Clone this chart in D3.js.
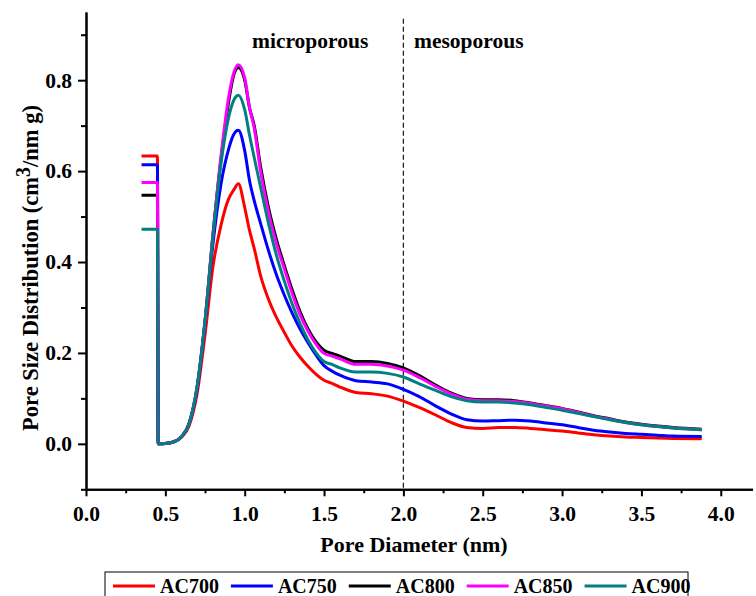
<!DOCTYPE html>
<html>
<head>
<meta charset="utf-8">
<script src="https://cdn.jsdelivr.net/npm/d3@7"></script>
<style>
  body { margin: 0; background: #fff; }
  text { font-family: "Liberation Serif", "Times New Roman", serif; font-weight: bold; }
</style>
</head>
<body>
<div id="chart"></div>
<script>
// pore diameter grid (nm)
var diameter = [0.35, 0.45, 0.455, 0.5, 0.55, 0.6, 0.65, 0.7, 0.75, 0.8, 0.85, 0.9, 0.93, 0.96,
  1.0, 1.03, 1.06, 1.1, 1.15, 1.2, 1.25, 1.3, 1.35, 1.4, 1.45, 1.5, 1.55, 1.6, 1.7, 1.8, 1.9,
  2.0, 2.1, 2.2, 2.3, 2.4, 2.5, 2.6, 2.7, 2.8, 2.9, 3.0, 3.1, 3.2, 3.3, 3.4, 3.5, 3.6, 3.7, 3.88];

// pore size distribution (cm3/nm g) per sample
var ac700 = [0.633, 0.633, 0, 0.001, 0.004, 0.014, 0.04, 0.11, 0.24, 0.39, 0.48, 0.54, 0.558, 0.572,
  0.52, 0.47, 0.43, 0.37, 0.318, 0.278, 0.245, 0.214, 0.19, 0.17, 0.153, 0.14, 0.133, 0.125, 0.113, 0.11, 0.105,
  0.094, 0.08, 0.064, 0.047, 0.036, 0.034, 0.036, 0.036, 0.034, 0.031, 0.028, 0.024, 0.02, 0.017, 0.015, 0.014, 0.013, 0.012, 0.011];
var ac750 = [0.614, 0.614, 0, 0.001, 0.004, 0.015, 0.045, 0.12, 0.265, 0.44, 0.57, 0.65, 0.68, 0.69,
  0.645, 0.58, 0.535, 0.485, 0.425, 0.372, 0.327, 0.287, 0.252, 0.222, 0.195, 0.172, 0.16, 0.151, 0.139, 0.136, 0.132,
  0.12, 0.104, 0.084, 0.066, 0.053, 0.05, 0.051, 0.052, 0.05, 0.046, 0.042, 0.036, 0.03, 0.026, 0.023, 0.021, 0.019, 0.017, 0.016];
var ac800 = [0.547, 0.547, 0, 0.001, 0.004, 0.015, 0.045, 0.125, 0.27, 0.46, 0.625, 0.755, 0.81, 0.828,
  0.80, 0.74, 0.70, 0.61, 0.52, 0.45, 0.392, 0.338, 0.29, 0.252, 0.224, 0.206, 0.199, 0.193, 0.181, 0.181, 0.177,
  0.167, 0.15, 0.13, 0.112, 0.1, 0.097, 0.097, 0.095, 0.09, 0.084, 0.078, 0.07, 0.062, 0.055, 0.048, 0.043, 0.039, 0.036, 0.032];
var ac850 = [0.575, 0.575, 0, 0.001, 0.004, 0.015, 0.045, 0.125, 0.27, 0.46, 0.63, 0.765, 0.815, 0.834,
  0.805, 0.74, 0.695, 0.60, 0.51, 0.44, 0.385, 0.33, 0.283, 0.247, 0.219, 0.199, 0.193, 0.187, 0.175, 0.175, 0.171,
  0.162, 0.146, 0.127, 0.11, 0.098, 0.095, 0.095, 0.093, 0.089, 0.083, 0.077, 0.069, 0.061, 0.054, 0.047, 0.042, 0.038, 0.035, 0.031];
var ac900 = [0.472, 0.472, 0, 0.001, 0.004, 0.015, 0.045, 0.125, 0.27, 0.455, 0.615, 0.72, 0.755, 0.767,
  0.735, 0.68, 0.63, 0.565, 0.485, 0.415, 0.358, 0.307, 0.264, 0.228, 0.2, 0.181, 0.175, 0.167, 0.158, 0.158, 0.155,
  0.147, 0.132, 0.118, 0.104, 0.095, 0.092, 0.092, 0.09, 0.086, 0.08, 0.074, 0.067, 0.06, 0.053, 0.047, 0.042, 0.038, 0.035, 0.031];

var seriesNames = ["AC700", "AC750", "AC800", "AC850", "AC900"];
var seriesValues = [ac700, ac750, ac800, ac850, ac900];
var colors = ["#ff0000", "#0000ff", "#000000", "#ff00ff", "#008080"];

var xMajor = [0, 0.5, 1.0, 1.5, 2.0, 2.5, 3.0, 3.5, 4.0];
var xMinor = [0.25, 0.75, 1.25, 1.75, 2.25, 2.75, 3.25, 3.75];
var yMajor = [0, 0.2, 0.4, 0.6, 0.8];
var yMinor = [-0.1, 0.1, 0.3, 0.5, 0.7, 0.9];

var W = 756, H = 596;
var svg = d3.select("#chart").append("svg")
  .attr("width", W).attr("height", H)
  .style("background", "#fff");

var x = d3.scaleLinear().domain([0, 4.2]).range([86, 752.5]);
var y = d3.scaleLinear().domain([-0.1, 0.95]).range([489.3, 12]);

// region divider at 2 nm
svg.append("line")
  .attr("x1", x(2)).attr("x2", x(2))
  .attr("y1", y(0.935)).attr("y2", y(-0.1))
  .attr("stroke", "#222").attr("stroke-width", 1.3)
  .attr("stroke-dasharray", "5,3");

// curves
var line = d3.line()
  .x(function(d) { return x(d[0]); })
  .y(function(d) { return y(d[1]); })
  .curve(d3.curveMonotoneX);

seriesValues.forEach(function(vals, i) {
  var pts = diameter.map(function(d, j) { return [d, vals[j]]; });
  svg.append("path")
    .datum(pts)
    .attr("d", line)
    .attr("fill", "none")
    .attr("stroke", colors[i])
    .attr("stroke-width", 3)
    .attr("stroke-linejoin", "round");
});

// axes
function styleAxis(g) {
  g.selectAll("path.domain").attr("stroke", "#000").attr("stroke-width", 2);
  g.selectAll(".tick line").attr("stroke", "#000").attr("stroke-width", 2);
  g.selectAll(".tick text").attr("fill", "#000").style("font-size", "21.5px")
    .style("font-family", '"Liberation Serif", "Times New Roman", serif').style("font-weight", "bold");
}

svg.append("g")
  .attr("transform", "translate(0," + y(-0.1) + ")")
  .call(d3.axisBottom(x).tickValues(xMinor).tickFormat("").tickSize(4).tickSizeOuter(0))
  .call(styleAxis);
svg.append("g")
  .attr("transform", "translate(0," + y(-0.1) + ")")
  .call(d3.axisBottom(x).tickValues(xMajor).tickFormat(d3.format(".1f"))
    .tickSize(7).tickPadding(9).tickSizeOuter(0))
  .call(styleAxis);

svg.append("g")
  .attr("transform", "translate(" + x(0) + ",0)")
  .call(d3.axisLeft(y).tickValues(yMinor).tickFormat("").tickSize(5).tickSizeOuter(0))
  .call(styleAxis);
svg.append("g")
  .attr("transform", "translate(" + x(0) + ",0)")
  .call(d3.axisLeft(y).tickValues(yMajor).tickFormat(d3.format(".1f"))
    .tickSize(8).tickPadding(6).tickSizeOuter(0))
  .call(styleAxis);

// axis titles
svg.append("text")
  .attr("x", 414).attr("y", 552)
  .attr("text-anchor", "middle")
  .style("font-size", "22px")
  .text("Pore Diameter (nm)");

var yt = svg.append("text")
  .attr("transform", "translate(38,268) rotate(-90)")
  .attr("text-anchor", "middle")
  .style("font-size", "22.5px");
yt.append("tspan").text("Pore Size Distribution (cm");
yt.append("tspan").attr("dy", -8).style("font-size", "20px").text("3");
yt.append("tspan").attr("dy", 8).text("/nm g)");

// region labels
svg.append("text").attr("x", 252).attr("y", 48).style("font-size", "21.5px").text("microporous");
svg.append("text").attr("x", 414).attr("y", 48).style("font-size", "21.5px").text("mesoporous");

// legend
var legend = svg.append("g");
legend.append("rect")
  .attr("x", 105).attr("y", 572).attr("width", 583).attr("height", 30)
  .attr("fill", "#fff").attr("stroke", "#000").attr("stroke-width", 1);

var lx = 113;
seriesNames.forEach(function(name, i) {
  legend.append("line")
    .attr("x1", lx).attr("x2", lx + 42)
    .attr("y1", 586).attr("y2", 586)
    .attr("stroke", colors[i]).attr("stroke-width", 3);
  var t = legend.append("text")
    .attr("x", lx + 47).attr("y", 593)
    .style("font-size", "20px")
    .text(name);
  lx += 47 + t.node().getComputedTextLength() + 12;
});
</script>
</body>
</html>
